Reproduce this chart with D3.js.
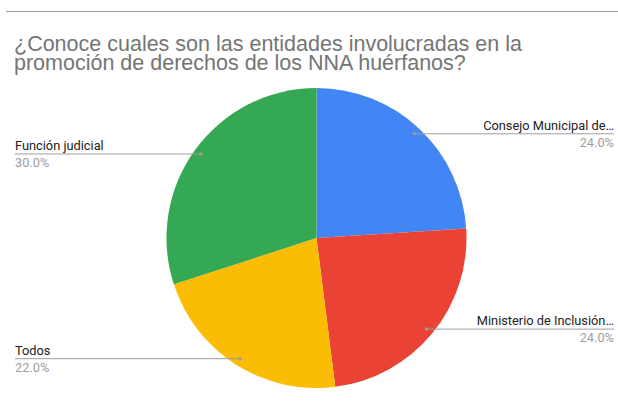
<!DOCTYPE html>
<html><head><meta charset="utf-8">
<script src="https://cdn.jsdelivr.net/npm/d3@7"></script>
<style>body{margin:0;background:#fff;overflow:hidden}svg{display:block}</style>
</head><body>
<svg id="chart" width="618" height="403"></svg>
<script>
const titleLines = ["¿Conoce cuales son las entidades involucradas en la", "promoción de derechos de los NNA huérfanos?"];
const categories = ["Consejo Municipal de…", "Ministerio de Inclusión…", "Todos", "Función judicial"];
const values = [24, 24, 22, 30];
const pctLabels = ["24.0%", "24.0%", "22.0%", "30.0%"];
const colors = ["#4285f4", "#ea4335", "#fbbc04", "#34a853"];

const svg = d3.select("#chart");
const cx = 316.5, cy = 238, R = 150;

svg.append("line").attr("x1", 6).attr("x2", 618).attr("y1", 11.5).attr("y2", 11.5)
  .attr("stroke", "#9e9e9e").attr("stroke-width", 1.2);

svg.append("g").attr("font-family", "'Liberation Sans', Arial, sans-serif")
  .attr("font-size", 21.5).attr("fill", "#757575")
  .selectAll("text").data(titleLines).join("text")
  .attr("x", 14).attr("y", (d, i) => 51 + i * 19).text(d => d);

const pie = d3.pie().sort(null).value(d => d);
const arcs = pie(values);
const arc = d3.arc().innerRadius(0).outerRadius(R);
const g = svg.append("g").attr("transform", `translate(${cx},${cy})`);
g.selectAll("path").data(arcs).join("path")
  .attr("d", arc).attr("fill", (d, i) => colors[i]);

const side = [1, 1, -1, -1];
const labelArc = d3.arc().innerRadius(R * 0.953).outerRadius(R * 0.953);
const lab = svg.append("g").attr("font-family", "Roboto, Arial, sans-serif").attr("font-size", 12.8);
arcs.forEach((a, i) => {
  const [px, py] = labelArc.centroid(a);
  const dx = cx + px;
  const ly = cy + py;
  const endX = side[i] > 0 ? 614 : 15;
  lab.append("line").attr("x1", dx).attr("y1", ly).attr("x2", endX).attr("y2", ly)
    .attr("stroke", "#9e9e9e").attr("stroke-width", 1);
  lab.append("circle").attr("cx", dx).attr("cy", ly).attr("r", 1.8).attr("fill", "#9e9e9e");
  const anchor = side[i] > 0 ? "end" : "start";
  lab.append("text").attr("x", endX).attr("y", ly - 4).attr("text-anchor", anchor)
    .attr("fill", "#222").text(categories[i]);
  lab.append("text").attr("x", endX).attr("y", ly + 13).attr("text-anchor", anchor)
    .attr("fill", "#9e9e9e").text(pctLabels[i]);
});
</script>
</body></html>
